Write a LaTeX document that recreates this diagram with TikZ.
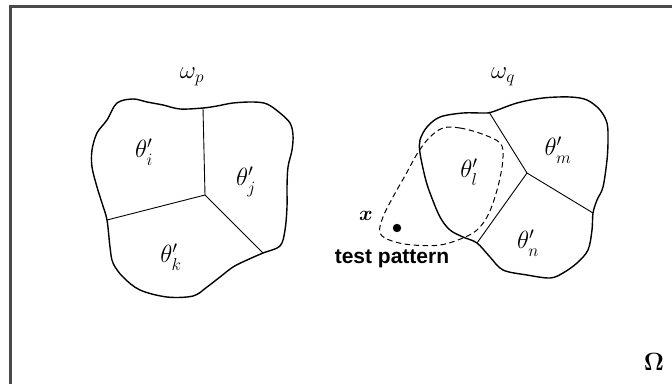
\documentclass[tikz,border=0pt]{standalone}
\usepackage{amsmath}
\usepackage{fontspec}
\newfontfamily\labelsans{Liberation Sans}
\definecolor{framegray}{HTML}{4A4A4A}
\tikzset{
  framestyle/.style={draw=framegray, line width=2.2pt},
  blob/.style={draw=black, line width=1.4pt, line join=round},
  divider/.style={draw=black, line width=0.9pt},
  dashblob/.style={draw=black, line width=1pt, dash pattern=on 5.5pt off 3.5pt},
  mlabel/.style={inner sep=0pt, font=\fontsize{25}{29}\selectfont},
}
\newcommand{\thl}[1]{\theta'_{\raisebox{-2pt}{$\scriptstyle #1$}}}
\begin{document}
\begin{tikzpicture}[x=1pt,y=-1pt]
\useasboundingbox (0,0) rectangle (672,383);
\fill[white] (0,0) rectangle (672,383);
% frame
\coordinate (fbl) at (10.5,384);
\coordinate (ftl) at (10.5,6.5);
\coordinate (ftr) at (673,6.5);
\draw[framestyle] (fbl) -- (ftl) -- (ftr);

% left region omega_p
\draw[blob] plot[smooth cycle, tension=0.55] coordinates {
 (203,108) (217,106) (233,103) (253,102) (267,104) (280,113) (290,123) (293,135)
 (292,150) (288,167) (287,187) (287,207) (285,230) (280,246) (263,253) (247,260)
 (233,267) (220,277) (207,287) (193,296) (167,297) (140,290) (123,277) (113,263)
 (110,247) (107,220) (102,203) (97,187) (92,167) (92,150) (97,133) (107,120)
 (117,103) (133,99) (147,102) (163,105) (180,109)};
\coordinate (pT) at (203,108);
\coordinate (pC) at (205,195);
\coordinate (pL) at (107,220);
\coordinate (pR) at (263,253);
\draw[divider] (pT) -- (pC) -- (pL);
\draw[divider] (pC) -- (pR);

% right region omega_q
\draw[blob] plot[smooth cycle, tension=0.55] coordinates {
 (492,112) (517,103) (543,98) (570,97) (587,100) (600,110) (607,123) (608,140)
 (607,160) (603,187) (597,200) (593,213) (592,230) (588,250) (577,263) (563,273)
 (550,278) (527,275) (503,270) (490,257) (477,243) (463,237) (450,230) (440,217)
 (430,193) (425,177) (420,153) (420,140) (427,127) (440,117) (463,113) (483,113)};
\coordinate (qT) at (489,112);
\coordinate (qC) at (527,173);
\coordinate (qR) at (593,213);
\coordinate (qB) at (477,243);
\draw[divider] (qT) -- (qC) -- (qR);
\draw[divider] (qC) -- (qB);

% dashed neighbourhood
\draw[dashblob] plot[smooth cycle, tension=0.6] coordinates {
 (443,128) (460,128) (482,134) (500,143) (503,157) (500,178) (494,200) (487,217)
 (477,230) (463,238) (440,245) (413,245) (392,241) (380,233) (383,217) (393,197)
 (406,174) (417,154) (429,138)};

% test point
\fill[black] (397,228) circle (4.2pt);
\node[inner sep=0pt, font=\fontsize{22}{24}\selectfont] (xlab) at (366,216) {$\boldsymbol{x}$};
\node[inner sep=0pt, font=\labelsans\bfseries\fontsize{21}{25}\selectfont] (tp) at (392,259) {test pattern};

% labels
\node[mlabel] (wp) at (192,77) {$\omega_p$};
\node[mlabel] (wq) at (503,77) {$\omega_q$};
\node[mlabel] (ti) at (144,152) {$\thl{i}$};
\node[mlabel] (tj) at (246,182) {$\thl{j}$};
\node[mlabel] (tk) at (171,257) {$\thl{k}$};
\node[mlabel] (tl) at (469,172) {$\thl{l}$};
\node[mlabel] (tm) at (558,150) {$\thl{m}$};
\node[mlabel] (tn) at (528,243) {$\thl{n}$};
\node[inner sep=0pt, font=\fontsize{28}{32}\selectfont] (om) at (654,362) {$\boldsymbol{\Omega}$};
\end{tikzpicture}
\end{document}
